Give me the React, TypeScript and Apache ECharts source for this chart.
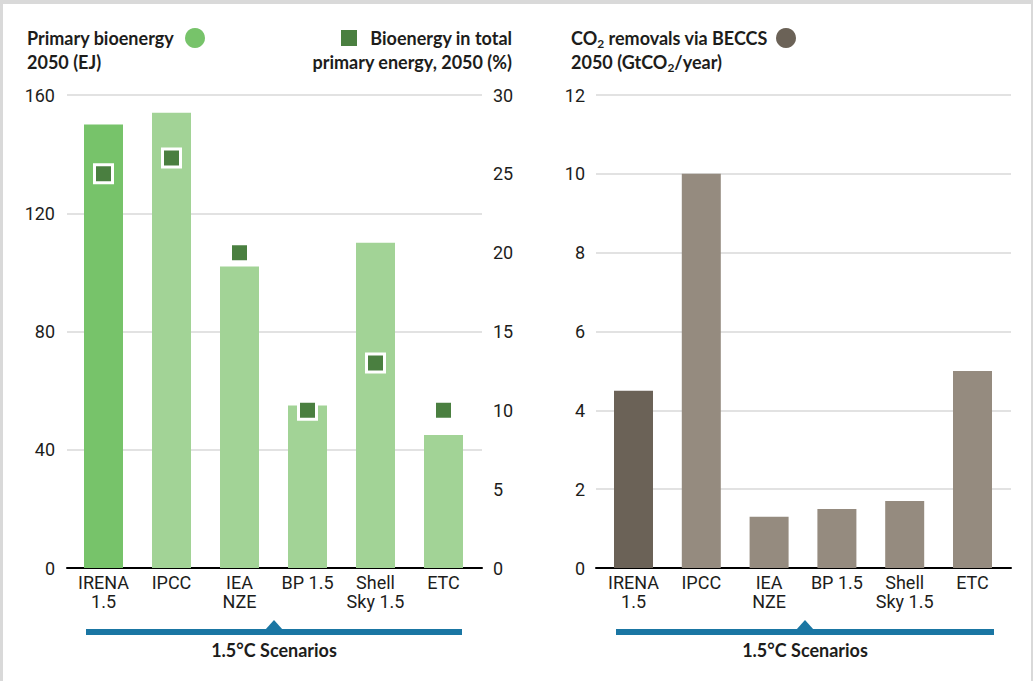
import React, { useEffect, useRef } from "react";
import * as echarts from "echarts";

const categories = ["IRENA\n1.5", "IPCC", "IEA\nNZE", "BP 1.5", "Shell\nSky 1.5", "ETC"];
const primaryBioenergyEJ = [150, 154, 102, 55, 110, 45];
const bioenergyShareTotal = [25, 26, 20, 10, 13, 10];
const beccsRemovals = [4.5, 10, 1.3, 1.5, 1.7, 5];
const leftTicks = { min: 0, max: 160, interval: 40 };
const rightTicks = { min: 0, max: 30, interval: 5 };
const beccsTicks = { min: 0, max: 12, interval: 2 };

const GREEN_MAIN = "#77c36a";
const GREEN_LIGHT = "#a2d396";
const GREEN_DARK = "#4a7f40";
const BROWN_MAIN = "#6b6257";
const BROWN_LIGHT = "#958b7f";
const BLUE = "#1a76a3";
const TEXT = "#1d1d1b";
const FONT = "Roboto, 'Noto Sans', sans-serif";
const TITLE_FONT = "Lato, 'Noto Sans', sans-serif";

export default function App() {
  const ref = useRef<HTMLDivElement>(null);
  useEffect(() => {
    document.body.style.margin = "0";
    if (!ref.current) return;
    const chart = echarts.init(ref.current, null, { renderer: "svg" });

    const axisLabel = { color: TEXT, fontSize: 18, fontFamily: FONT };
    const splitLine = { show: true, lineStyle: { color: "#d9d9d9", width: 1.5 } };

    const titleText = (x: number, y: number, text: string, align = "left", rich?: any) => ({
      type: "text",
      x,
      y,
      silent: true,
      style: {
        text,
        fill: TEXT,
        fontSize: 18,
        fontWeight: "bold",
        fontFamily: TITLE_FONT,
        align,
        textAlign: align,
        verticalAlign: "middle",
        textVerticalAlign: "middle",
        rich,
      },
    });

    const subRich = {
      a: { fontSize: 18, fontWeight: "bold", fontFamily: TITLE_FONT, fill: TEXT, color: TEXT, lineHeight: 22, verticalAlign: "middle" },
      s: { fontSize: 12, fontWeight: "bold", fontFamily: TITLE_FONT, fill: TEXT, color: TEXT, lineHeight: 22, padding: [10, 0, 0, 0], verticalAlign: "middle" },
    };

    const bracket = (x1: number, x2: number) => {
      const cx = (x1 + x2) / 2;
      return [
        { type: "rect", silent: true, shape: { x: x1, y: 629, width: x2 - x1, height: 6 }, style: { fill: BLUE } },
        {
          type: "polygon",
          silent: true,
          shape: { points: [[cx - 9, 630], [cx, 620], [cx + 9, 630]] },
          style: { fill: BLUE },
        },
        {
          type: "text",
          x: cx,
          y: 650,
          silent: true,
          style: {
            text: "1.5°C Scenarios",
            fill: TEXT,
            fontSize: 18,
            fontWeight: "bold",
            fontFamily: TITLE_FONT,
            align: "center",
            textAlign: "center",
            verticalAlign: "middle",
            textVerticalAlign: "middle",
          },
        },
      ];
    };

    const catLabel = { ...axisLabel, margin: 5, lineHeight: 19, align: "center", interval: 0, hideOverlap: false };

    chart.setOption({
      animation: false,
      backgroundColor: "transparent",
      grid: [
        { left: 67, top: 95, width: 415, height: 473 },
        { left: 69.5, top: 95, width: 408, height: 473 },
        { left: 596, top: 95, width: 415, height: 473 },
        { left: 599.6, top: 95, width: 406.8, height: 473 },
      ],
      xAxis: [
        {
          gridIndex: 0,
          type: "category",
          data: categories,
          axisLine: { show: true, lineStyle: { color: "#000", width: 2 } },
          axisTick: { show: false },
          axisLabel: { show: false },
        },
        {
          gridIndex: 1,
          type: "category",
          data: categories,
          axisLine: { show: false },
          axisTick: { show: false },
          axisLabel: catLabel,
        },
        {
          gridIndex: 2,
          type: "category",
          data: categories,
          axisLine: { show: true, lineStyle: { color: "#000", width: 2 } },
          axisTick: { show: false },
          axisLabel: { show: false },
        },
        {
          gridIndex: 3,
          type: "category",
          data: categories,
          axisLine: { show: false },
          axisTick: { show: false },
          axisLabel: catLabel,
        },
      ],
      yAxis: [
        {
          gridIndex: 0,
          type: "value",
          position: "left",
          ...leftTicks,
          axisLine: { show: false },
          axisTick: { show: false },
          axisLabel: { ...axisLabel, margin: 12 },
          splitLine,
        },
        {
          gridIndex: 0,
          type: "value",
          position: "right",
          ...rightTicks,
          axisLine: { show: false },
          axisTick: { show: false },
          axisLabel: { ...axisLabel, margin: 11 },
          splitLine: { show: false },
        },
        { gridIndex: 1, type: "value", ...leftTicks, show: false },
        { gridIndex: 1, type: "value", ...rightTicks, show: false },
        {
          gridIndex: 2,
          type: "value",
          position: "left",
          ...beccsTicks,
          axisLine: { show: false },
          axisTick: { show: false },
          axisLabel: { ...axisLabel, margin: 11 },
          splitLine,
        },
        { gridIndex: 3, type: "value", ...beccsTicks, show: false },
      ],
      series: [
        {
          type: "bar",
          xAxisIndex: 1,
          yAxisIndex: 2,
          barWidth: 39,
          data: primaryBioenergyEJ.map((v, i) => ({
            value: v,
            itemStyle: { color: i === 0 ? GREEN_MAIN : GREEN_LIGHT },
          })),
          silent: true,
          z: 2,
        },
        {
          type: "scatter",
          xAxisIndex: 1,
          yAxisIndex: 3,
          symbol: "rect",
          symbolSize: 18,
          data: bioenergyShareTotal,
          itemStyle: { color: GREEN_DARK, borderColor: "#ffffff", borderWidth: 3, opacity: 1 },
          silent: true,
          z: 3,
        },
        {
          type: "bar",
          xAxisIndex: 3,
          yAxisIndex: 5,
          barWidth: 39,
          data: beccsRemovals.map((v, i) => ({
            value: v,
            itemStyle: { color: i === 0 ? BROWN_MAIN : BROWN_LIGHT },
          })),
          silent: true,
          z: 2,
        },
      ],
      graphic: [
        titleText(27, 38, "Primary bioenergy"),
        titleText(27, 62, "2050 (EJ)"),
        { type: "circle", silent: true, shape: { cx: 195, cy: 38, r: 10 }, style: { fill: GREEN_MAIN } },
        { type: "rect", silent: true, shape: { x: 341, y: 30, width: 16, height: 16 }, style: { fill: GREEN_DARK } },
        titleText(512, 38, "Bioenergy in total", "right"),
        titleText(512, 62, "primary energy, 2050 (%)", "right"),
        titleText(571, 38, "{a|CO}{s|2}{a| removals via BECCS}", "left", subRich),
        titleText(571, 62, "{a|2050 (GtCO}{s|2}{a|/year)}", "left", subRich),
        { type: "circle", silent: true, shape: { cx: 786, cy: 38, r: 10 }, style: { fill: BROWN_MAIN } },
        ...bracket(86, 462),
        ...bracket(616, 994),
      ],
    });
    return () => chart.dispose();
  }, []);

  return (
    <div style={{ position: "relative", width: 1033, height: 681, background: "#d9d9d9", overflow: "hidden" }}>
      <div style={{ position: "absolute", left: 3, top: 4, width: 1028, height: 700, background: "#ffffff" }} />
      <div ref={ref} style={{ position: "absolute", left: 0, top: 0, width: 1033, height: 681 }} />
    </div>
  );
}
